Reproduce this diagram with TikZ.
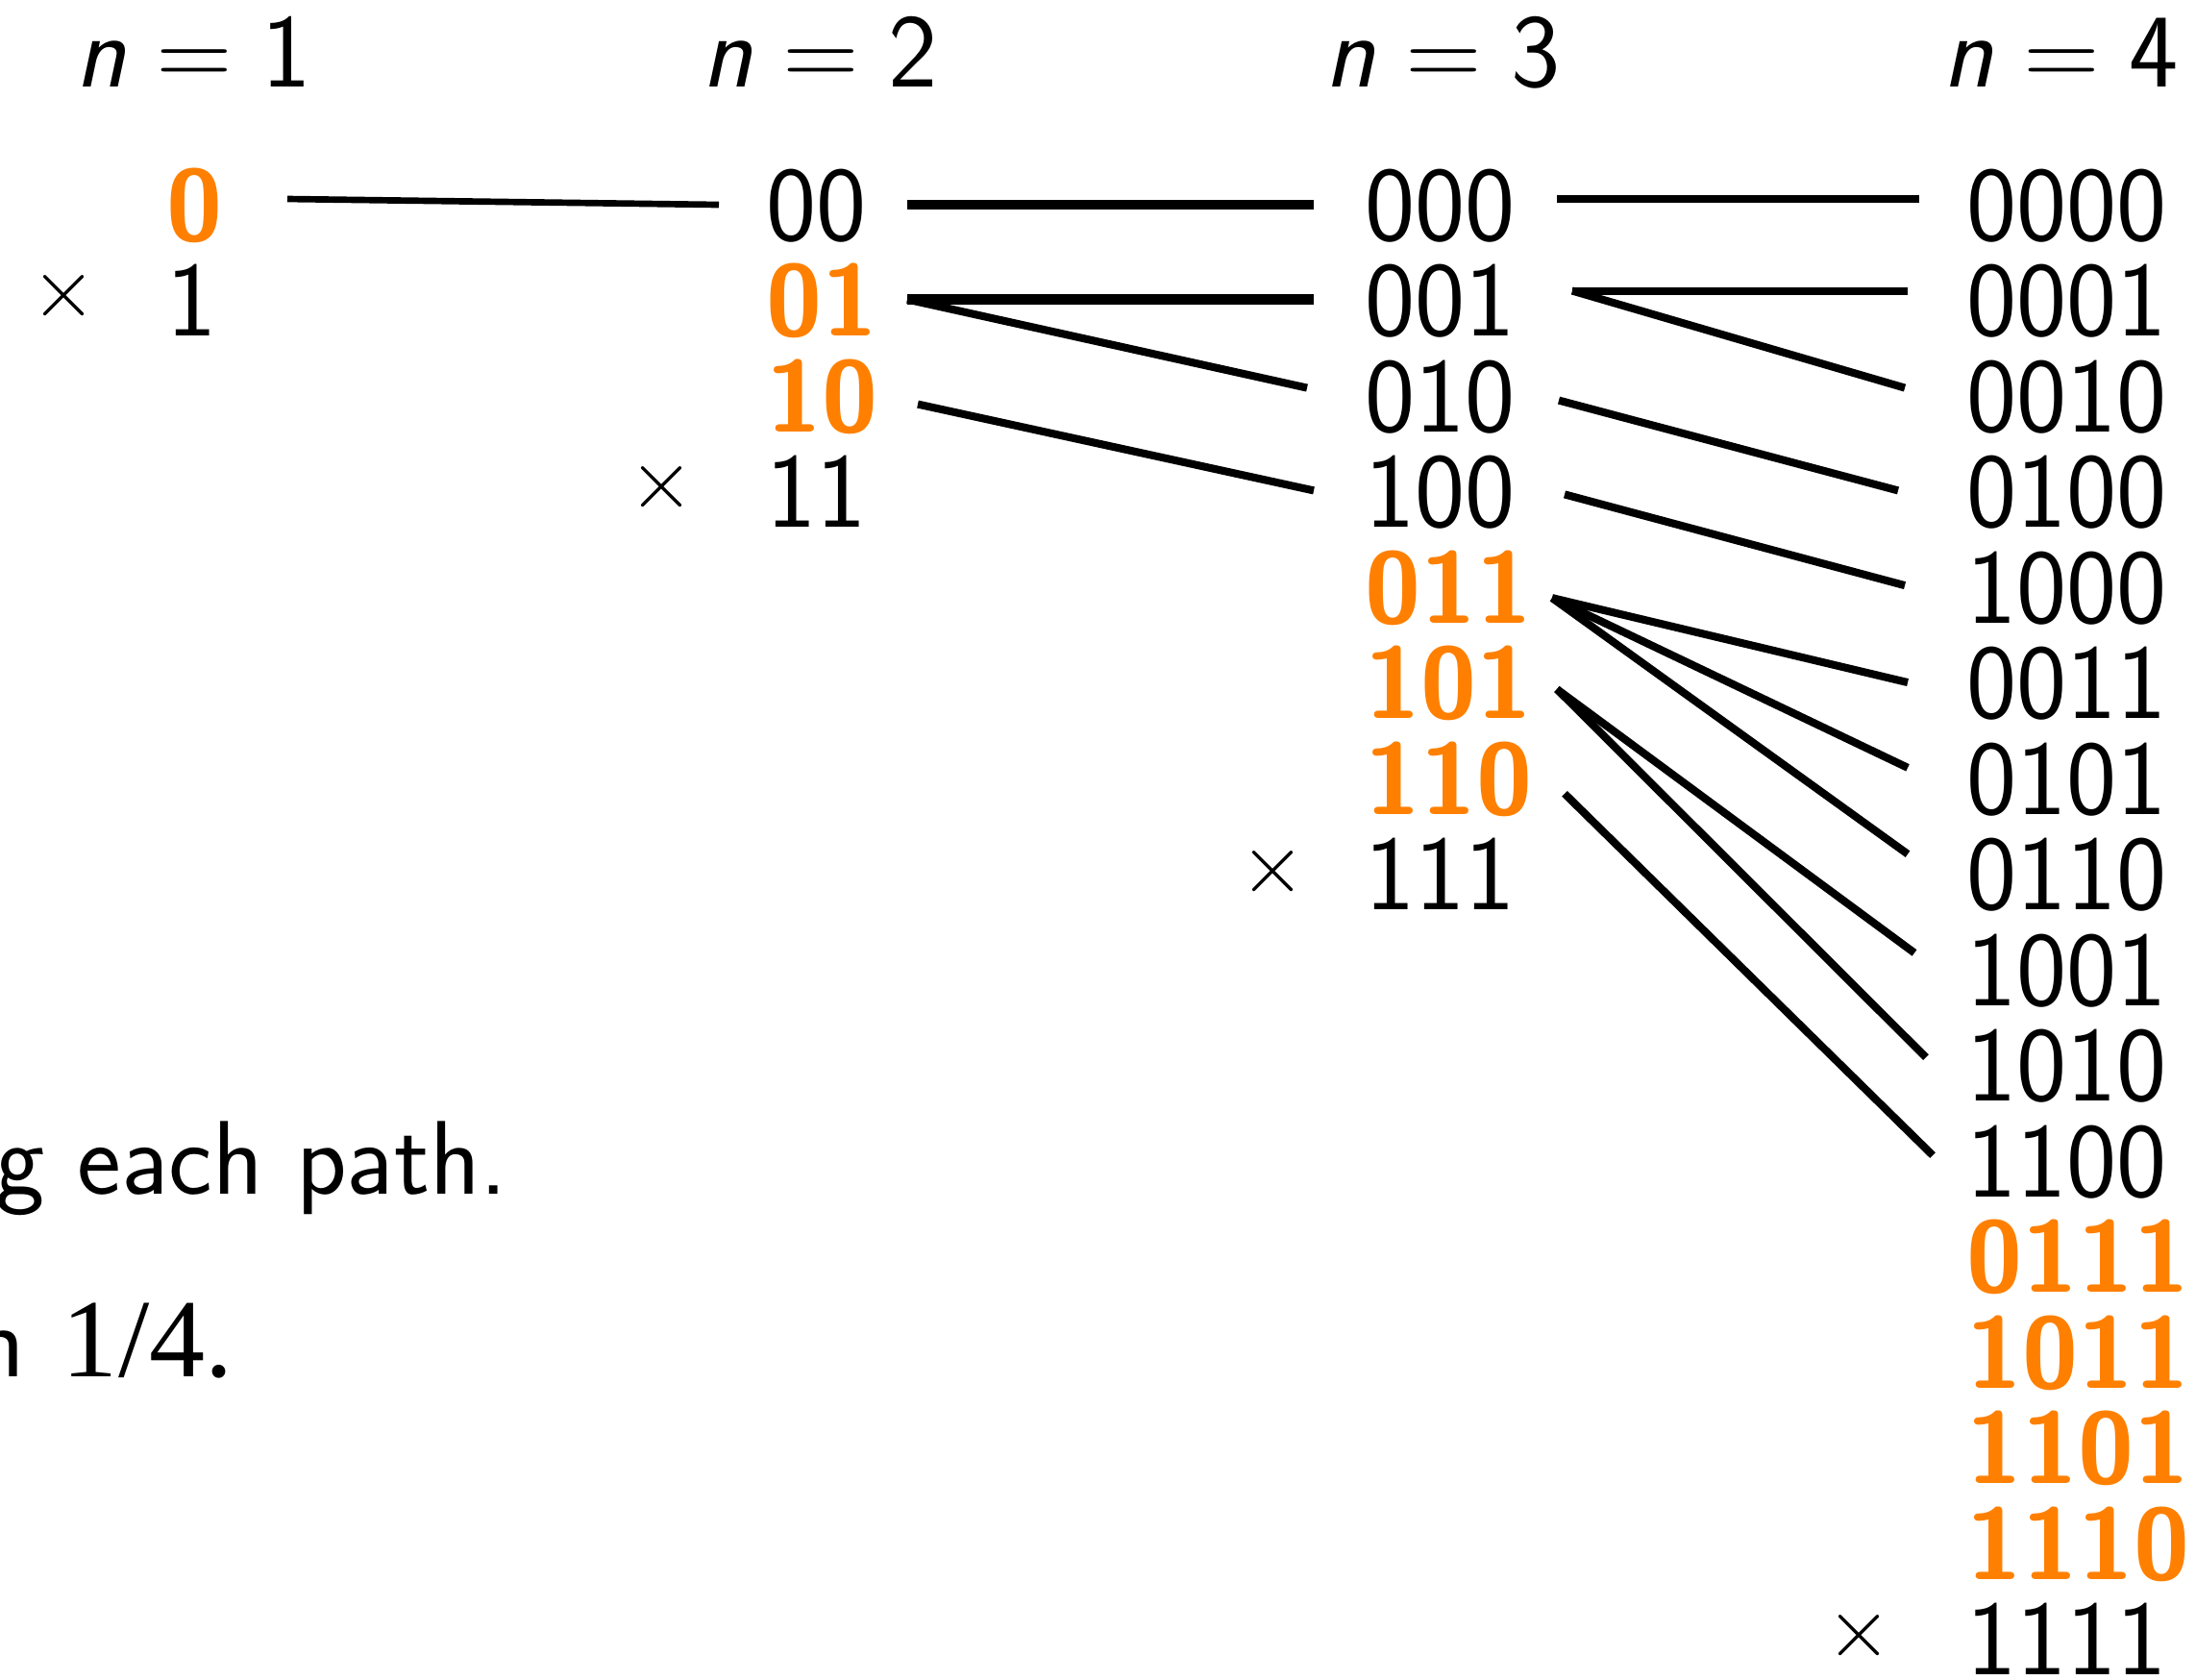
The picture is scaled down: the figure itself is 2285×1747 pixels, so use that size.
\documentclass[tikz,border=0pt]{standalone}
\usepackage{fontspec}
\newfontfamily\timesf{Liberation Serif}
\definecolor{alertorange}{RGB}{255,128,0}
\newcommand\conn[7][]{\draw[link,#1] ([shift={(#3,#4)}]#2.base west) -- ([shift={(#6,#7)}]#5.base west);}
\begin{document}
\begin{tikzpicture}[x=0.01cm,y=-0.01cm,
  lbl/.style={font=\fontsize{31.5}{36}\selectfont\sffamily, inner sep=0pt, anchor=base west},
  hot/.style={lbl, text=alertorange, font=\fontsize{30}{36}\selectfont\sffamily\bfseries},
  hdr/.style={font=\fontsize{31}{36}\selectfont\sffamily, inner sep=0pt, anchor=base},
  cross/.style={font=\fontsize{33}{38}\selectfont, inner sep=0pt},
  link/.style={line width=2.3pt},
  ]
\useasboundingbox (0,0) rectangle (2285,1747);

% headers
\node[hdr] (h1) at (201,90) {\textit{n}\hspace{0.28em}=\hspace{0.28em}1};
\node[hdr] (h2) at (853,90) {\textit{n}\hspace{0.28em}=\hspace{0.28em}2};
\node[hdr] (h3) at (1501,90) {\textit{n}\hspace{0.28em}=\hspace{0.28em}3};
\node[hdr] (h4) at (2144,90) {\textit{n}\hspace{0.28em}=\hspace{0.28em}4};

% column n=1
\node[hot] (n0) at (173,{250}) {0};
\node[lbl] (n1) at (173,{250+99.53}) {1};
% column n=2
\node[lbl] (n00) at (797,{250}) {00};
\node[hot] (n01) at (797,{250+99.53*1}) {01};
\node[hot] (n10) at (797,{250+99.53*2}) {10};
\node[lbl] (n11) at (797,{250+99.53*3}) {11};
% column n=3
\node[lbl] (n000) at (1420,{250}) {000};
\node[lbl] (n001) at (1420,{250+99.53*1}) {001};
\node[lbl] (n010) at (1420,{250+99.53*2}) {010};
\node[lbl] (n100) at (1420,{250+99.53*3}) {100};
\node[hot] (n011) at (1420,{250+99.53*4}) {011};
\node[hot] (n101) at (1420,{250+99.53*5}) {101};
\node[hot] (n110) at (1420,{250+99.53*6}) {110};
\node[lbl] (n111) at (1420,{250+99.53*7}) {111};
% column n=4
\node[lbl] (n0000) at (2046,{250}) {0000};
\node[lbl] (n0001) at (2046,{250+99.53*1}) {0001};
\node[lbl] (n0010) at (2046,{250+99.53*2}) {0010};
\node[lbl] (n0100) at (2046,{250+99.53*3}) {0100};
\node[lbl] (n1000) at (2046,{250+99.53*4}) {1000};
\node[lbl] (n0011) at (2046,{250+99.53*5}) {0011};
\node[lbl] (n0101) at (2046,{250+99.53*6}) {0101};
\node[lbl] (n0110) at (2046,{250+99.53*7}) {0110};
\node[lbl] (n1001) at (2046,{250+99.53*8}) {1001};
\node[lbl] (n1010) at (2046,{250+99.53*9}) {1010};
\node[lbl] (n1100) at (2046,{250+99.53*10}) {1100};
\node[hot] (n0111) at (2046,{250+99.53*11}) {0111};
\node[hot] (n1011) at (2046,{250+99.53*12}) {1011};
\node[hot] (n1101) at (2046,{250+99.53*13}) {1101};
\node[hot] (n1110) at (2046,{250+99.53*14}) {1110};
\node[lbl] (n1111) at (2046,{250+99.53*15}) {1111};

% crosses
\node[cross] (x1) at (67,308) {$\times$};
\node[cross] (x2) at (689,507) {$\times$};
\node[cross] (x3) at (1325,907) {$\times$};
\node[cross] (x4) at (1934,1702) {$\times$};

% connectors
\conn[line width=1.9pt]{n0}{126}{-43}{n00}{-49}{-37}
\conn[line width=3pt]{n00}{147}{-37}{n000}{-53}{-37}
\conn[line width=3pt]{n01}{147}{-38}{n001}{-53}{-38}
\conn{n01}{147}{-38}{n010}{-60}{-45.5}
\conn{n10}{158}{-28.5}{n100}{-53}{-38.2}
\conn{n000}{200}{-43}{n0000}{-49}{-43}
\conn{n001}{216}{-47}{n0001}{-61}{-47}
\conn{n001}{216}{-47}{n0010}{-64}{-45.5}
\conn{n010}{202}{-32.5}{n0100}{-71}{-38.2}
\conn{n100}{208}{-34.2}{n1000}{-64}{-39}
\conn{n011}{195}{-26}{n0011}{-61}{-37.6}
\conn{n011}{195}{-26}{n0101}{-61}{-48.4}
\conn{n011}{195}{-26}{n0110}{-61}{-58.1}
\conn{n101}{200}{-30.6}{n1001}{-54}{-54.8}
\conn{n101}{200}{-30.6}{n1010}{-42}{-45.6}
\conn{n110}{208}{-21.4}{n1100}{-35}{-43.3}

% cut-off slide text
\node[font=\fontsize{31}{36}\selectfont\sffamily, inner sep=0pt, anchor=base east] (t1) at (529,1242) {g each path.};
\node[inner sep=0pt, anchor=base east] (t2) at (243,1432) {{\fontsize{31}{36}\selectfont\sffamily n}\hspace{11pt}{\timesf\fontsize{33}{38}\selectfont 1/4.}};
\end{tikzpicture}
\end{document}
